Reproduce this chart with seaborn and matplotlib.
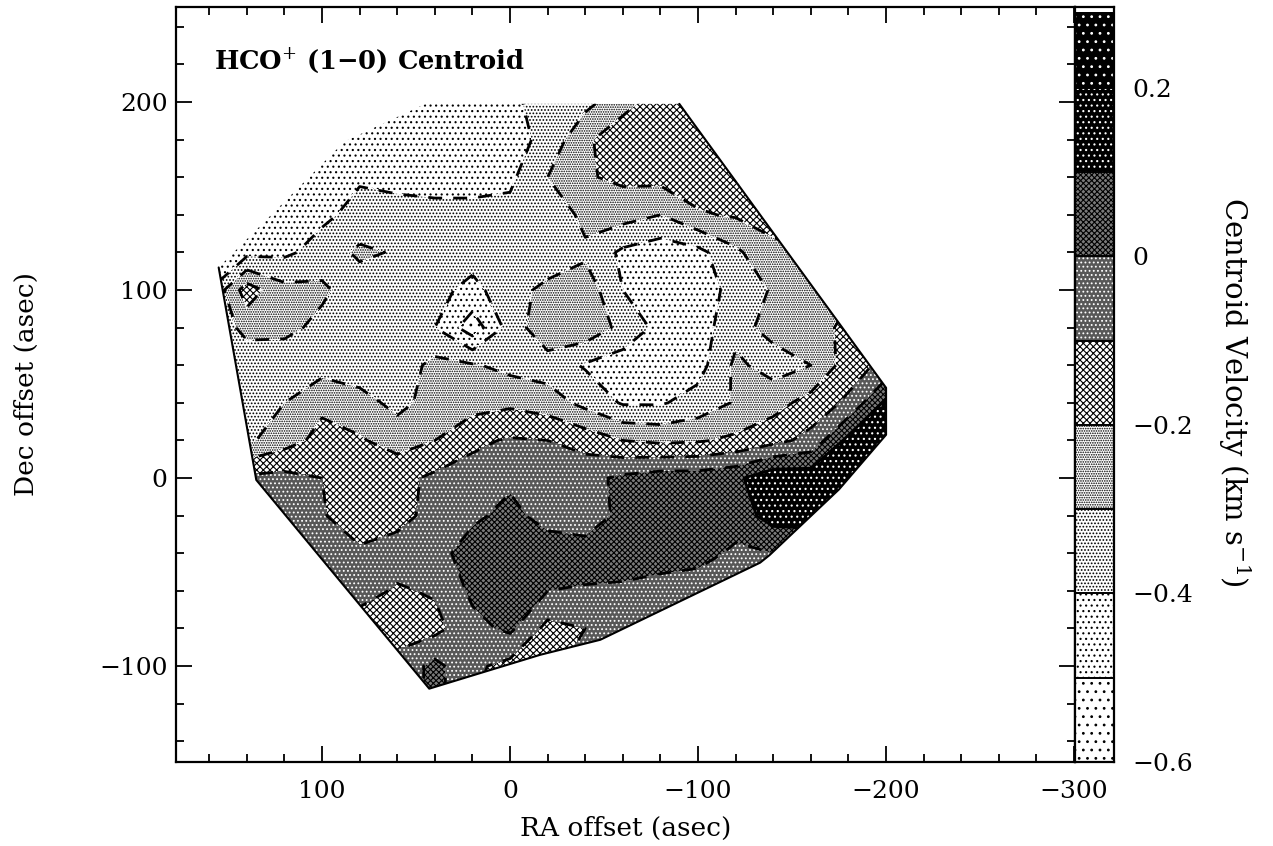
import numpy as np
import matplotlib
matplotlib.use("Agg")
import matplotlib.pyplot as plt
from matplotlib.patches import Polygon
from matplotlib.ticker import MultipleLocator
import seaborn as sns

ra = [160, 140, 120, 100, 80, 60, 40, 20, 0, -20, -40, -60, -80, -100, -120, -140, -160, -180, -200]
dec = [200, 180, 160, 140, 120, 100, 80, 60, 40, 20, 0, -20, -40, -60, -80, -100, -120]

# centroid velocity, one row per dec
row_200 = [-.45, -.45, -.45, -.45, -.45, -.45, -.44, -.43, -.42, -.36, -.33, -.24, -.15, -.13, -.13, -.13, -.13, -.13, -.13]
row_180 = [-.45, -.45, -.45, -.44, -.44, -.45, -.45, -.45, -.44, -.37, -.22, -.13, -.12, -.12, -.13, -.14, -.14, -.14, -.14]
row_160 = [-.44, -.44, -.43, -.42, -.41, -.44, -.45, -.45, -.42, -.3, -.21, -.18, -.17, -.15, -.13, -.14, -.14, -.14, -.14]
row_140 = [-.44, -.44, -.44, -.42, -.37, -.35, -.36, -.36, -.37, -.38, -.27, -.26, -.3, -.21, -.19, -.17, -.16, -.16, -.16]
row_120 = [-.42, -.43, -.42, -.36, -.28, -.31, -.37, -.37, -.38, -.4, -.32, -.42, -.46, -.43, -.32, -.22, -.2, -.2, -.2]
row_100 = [-.4, -.15, -.27, -.28, -.36, -.37, -.38, -.42, -.36, -.26, -.24, -.4, -.46, -.46, -.36, -.29, -.26, -.22, -.15]
row_80 = [-.4, -.26, -.27, -.33, -.37, -.37, -.4, -.56, -.36, -.22, -.23, -.33, -.43, -.45, -.33, -.27, -.25, -.17, -.1]
row_60 = [-.4, -.38, -.37, -.34, -.36, -.36, -.27, -.29, -.33, -.35, -.41, -.45, -.45, -.44, -.28, -.34, -.3, -.15, -.07]
row_40 = [-.4, -.38, -.3, -.22, -.26, -.33, -.26, -.24, -.22, -.25, -.33, -.41, -.41, -.36, -.29, -.24, -.16, -.08, .12]
row_20 = [-.35, -.32, -.24, -.17, -.19, -.24, -.2, -.12, -.09, -.1, -.14, -.2, -.22, -.21, -.18, -.13, -.07, .13, .2]
row_0 = [-.08, -.08, -.07, -.1, -.16, -.13, -.08, -.06, -.02, -.05, -.03, .02, .05, .05, .08, .17, .16, .2, .2]
row_m20 = [-.06, -.06, -.06, -.09, -.17, -.13, -.07, -.02, .03, -.04, -.06, .03, .05, .05, .05, .14, .15, .15, .15]
row_m40 = [-.05, -.05, -.05, -.05, -.08, -.06, -.04, .05, .06, .06, .05, .06, .06, .04, -.02, 0, 0, 0, 0]
row_m60 = [-.07, -.07, -.07, -.07, -.07, -.11, -.09, .02, .05, 0, -.01, -.02, -.05, -.06, -.06, -.06, -.06, -.06, -.06]
row_m80 = [-.14, -.14, -.14, -.14, -.14, -.14, -.13, -.03, .02, -.13, -.1, -.07, -.06, -.06, -.06, -.06, -.06, -.06, -.06]
row_m100 = [-.07, -.07, -.07, -.07, -.07, -.07, .03, -.08, -.13, -.12, -.07, -.07, -.07, -.07, -.07, -.07, -.07, -.07, -.07]
row_m120 = [-.1, -.1, -.1, -.1, -.1, -.1, .04, -.1, -.1, -.1, -.1, -.1, -.1, -.1, -.1, -.1, -.1, -.1, -.1]

# map edge, starting from the top right corner
outline_ra = [-90, -200, -200, -175, -138, -133, -48, -16, 43, 135, 155, 88, 45]
outline_dec = [199, 48, 23, -6, -41, -45, -86, -94, -112, -1, 112, 179, 199]

levels = [-.6, -.5, -.4, -.3, -.2, -.1, 0, .1, .2, .29]
line_levels = [-.5, -.4, -.3, -.2, -.1, 0, .1, .2]
tick_labels = ["\u22120.6", "\u22120.4", "\u22120.2", "0", "0.2"]

band_grays = ["#ffffff", "#ffffff", "#ffffff", "#ffffff", "#ffffff", "#585858", "#7a7a7a", "#000000", "#000000"]
band_hatches = ["..", "...", ".....", ".......", "xxxxx", "....", "xxxxxx", "...", ".."]
band_dots = ["black", "black", "black", "black", "black", "white", "black", "white", "white"]

sns.set_style("ticks")
plt.rcParams["font.family"] = ["DejaVu Serif"]
plt.rcParams["mathtext.fontset"] = "dejavuserif"
plt.rcParams["axes.linewidth"] = 1.6
plt.rcParams["hatch.linewidth"] = 0.8
plt.rcParams["text.color"] = "black"
plt.rcParams["axes.labelcolor"] = "black"
plt.rcParams["axes.edgecolor"] = "black"
plt.rcParams["xtick.color"] = "black"
plt.rcParams["ytick.color"] = "black"

velocity = np.array([row_200, row_180, row_160, row_140, row_120, row_100, row_80, row_60, row_40,
                     row_20, row_0, row_m20, row_m40, row_m60, row_m80, row_m100, row_m120])


def draw_bands(axis, x, y, z, clip=None):
    for i in range(len(levels) - 1):
        band = axis.contourf(x, y, z, levels=levels[i:i + 2], colors=[band_grays[i]], hatches=[band_hatches[i]])
        # the hatch takes its colour from the edge colour
        band.set_edgecolor(band_dots[i])
        band.set_linewidth(0)
        if clip is not None:
            band.set_clip_path(clip)


W, H = 1273, 846
fig = plt.figure(figsize=(W / 100, H / 100), dpi=100)
ax = fig.add_axes([176 / W, 1 - 762 / H, (1075 - 176) / W, 755 / H])
cax = fig.add_axes([1075 / W, 1 - 762 / H, 39 / W, 755 / H])

outline = Polygon(np.column_stack([outline_ra, outline_dec]), closed=True, facecolor="none",
                  edgecolor="none", transform=ax.transData)
ax.add_patch(outline)
draw_bands(ax, ra, dec, velocity, clip=outline)
lines = ax.contour(ra, dec, velocity, levels=line_levels, colors="black", linewidths=2.0)
lines.set_linestyles([(0, (5, 4)) if lev <= 0 else "solid" for lev in line_levels])
lines.set_clip_path(outline)
ax.plot(outline_ra[:11], outline_dec[:11], color="black", lw=1.5)

ax.set_xlim(177.7, -300.5)
ax.set_ylim(-151, 250.5)
ax.xaxis.set_minor_locator(MultipleLocator(20))
ax.yaxis.set_minor_locator(MultipleLocator(20))
ax.set_xticks([100, 0, -100, -200, -300])
ax.set_xticklabels(["100", "0", "\u2212100", "\u2212200", "\u2212300"])
ax.set_yticks([-100, 0, 100, 200])
ax.set_yticklabels(["\u2212100", "0", "100", "200"])
ax.tick_params(which="major", direction="in", top=True, right=True, length=11.5, width=1.3, labelsize=18)
ax.tick_params(axis="x", which="major", pad=13)
ax.tick_params(axis="y", which="major", pad=6)
ax.tick_params(which="minor", direction="in", top=True, right=True, length=6, width=1.3)
ax.set_xlabel("RA offset (asec)", fontsize=19)
ax.set_ylabel("Dec offset (asec)", fontsize=19)
ax.xaxis.set_label_coords(0.5, -0.072)
ax.yaxis.set_label_coords(-0.153, 0.5)
fig.text(214 / W, 1 - 61 / H, "HCO$^{+}$ (1\u22120) Centroid", fontsize=18.5, fontweight="bold", va="center")

# colour wedge
draw_bands(cax, [0, 1], levels, np.column_stack([levels, levels]))
for lev in levels[1:-1]:
    cax.axhline(lev, color="black", lw=1.4)
cax.set_xlim(0, 1)
cax.set_ylim(-.6, .296)
cax.set_xticks([])
cax.yaxis.tick_right()
cax.yaxis.set_minor_locator(MultipleLocator(.05))
cax.set_yticks([-.6, -.4, -.2, 0, .2])
cax.set_yticklabels(tick_labels)
cax.tick_params(which="major", direction="in", length=6, width=1.3, labelsize=18, pad=13)
cax.tick_params(which="minor", direction="in", length=5, width=1.3)
cax.set_ylabel("Centroid Velocity (km s$^{-1}$)", fontsize=21, rotation=270)
cax.yaxis.set_label_position("right")
cax.yaxis.set_label_coords(4.55, 0.49)

fig.savefig("out.png", dpi=100)
